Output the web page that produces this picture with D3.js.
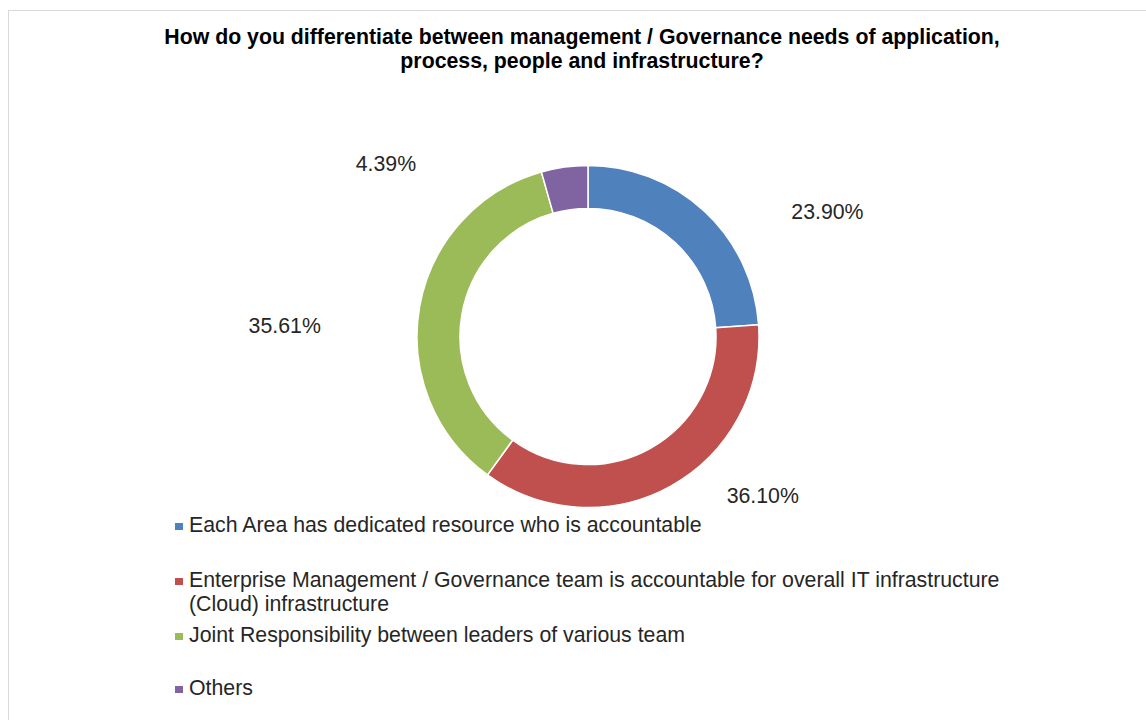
<!DOCTYPE html>
<html>
<head>
<meta charset="utf-8">
<script src="https://cdn.jsdelivr.net/npm/d3@7"></script>
<style>
  html, body { margin: 0; padding: 0; background: #fff; }
  svg { display: block; font-family: "Liberation Sans", Arial, sans-serif; }
</style>
</head>
<body>
<svg id="chart" width="1146" height="720"></svg>
<script>
// Survey answers and their shares (percent)
const categories = [
  "Each Area has dedicated resource who is accountable",
  "Enterprise Management / Governance team is accountable for overall IT infrastructure (Cloud) infrastructure",
  "Joint Responsibility between leaders of various team",
  "Others"
];
const values = [23.90, 36.10, 35.61, 4.39];
const colors = ["#4f81bd", "#c0504d", "#9bbb59", "#8064a2"];
const titleLines = [
  "How do you differentiate between management / Governance needs of application,",
  "process, people and infrastructure?"
];
// Legend text, wrapped as shown
const legendLines = [
  ["Each Area has dedicated resource who is accountable"],
  ["Enterprise Management / Governance team is accountable for overall IT infrastructure", "(Cloud) infrastructure"],
  ["Joint Responsibility between leaders of various team"],
  ["Others"]
];

const svg = d3.select("#chart");
const fontSize = 21.3;

// Chart frame
svg.append("rect")
  .attr("x", 8.5).attr("y", 10.5)
  .attr("width", 1160).attr("height", 740)
  .attr("fill", "#fff").attr("stroke", "#d9d9d9").attr("stroke-width", 1);

// Title
svg.append("g").selectAll("text").data(titleLines).join("text")
  .attr("x", 582).attr("y", (d, i) => 44 + i * 23.5)
  .attr("text-anchor", "middle")
  .attr("font-weight", "bold").attr("font-size", fontSize).attr("fill", "#000")
  .text(d => d);

// Donut
const cx = 588, cy = 336.5, outerR = 171, innerR = 128;
const pie = d3.pie().sort(null).value(d => d);
const arcs = pie(values);
const arc = d3.arc().innerRadius(innerR).outerRadius(outerR);

const g = svg.append("g").attr("transform", `translate(${cx},${cy})`);
g.selectAll("path").data(arcs).join("path")
  .attr("d", arc)
  .attr("fill", (d, i) => colors[i])
  .attr("stroke", "#fff").attr("stroke-width", 1.5);

// Data labels placed outside the ring, nudged to their best-fit spots
const labelArc = d3.arc().innerRadius(outerR + 70).outerRadius(outerR + 70);
const labelOffsets = [[75, 51], [58, -52], [-66, 31], [-169, 66]];
g.selectAll("text.val").data(arcs).join("text")
  .attr("class", "val")
  .attr("transform", (d, i) => {
    const [x, y] = labelArc.centroid(d);
    return `translate(${x + labelOffsets[i][0]},${y + labelOffsets[i][1]})`;
  })
  .attr("text-anchor", "middle").attr("dy", "0.35em")
  .attr("font-size", fontSize).attr("fill", "#262626")
  .text(d => d.data.toFixed(2) + "%");

// Legend
const legendTop = [532, 587, 642, 695];
const lg = svg.append("g");
legendLines.forEach((lines, i) => {
  const item = lg.append("g");
  item.append("rect")
    .attr("x", 175).attr("y", legendTop[i] - 9)
    .attr("width", 8).attr("height", 7)
    .attr("fill", colors[i]);
  lines.forEach((t, j) => {
    item.append("text")
      .attr("x", 189).attr("y", legendTop[i] + j * 23.5)
      .attr("font-size", fontSize).attr("fill", "#262626")
      .text(t);
  });
});
</script>
</body>
</html>
